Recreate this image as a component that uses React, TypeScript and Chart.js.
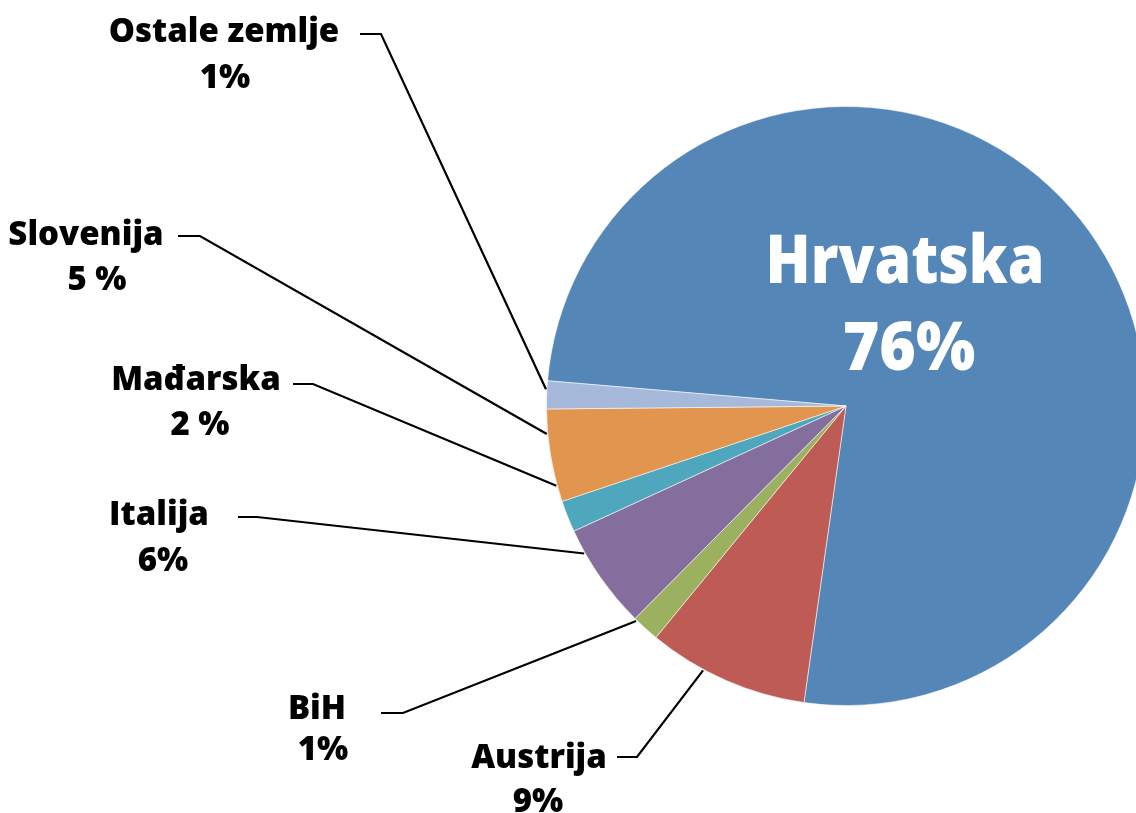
import { useEffect, useRef } from "react";
import { Chart, registerables } from "chart.js";

Chart.register(...registerables);

// ---- data ----
const categories = ["Hrvatska", "Austrija", "BiH", "Italija", "Mađarska", "Slovenija", "Ostale zemlje"];
const shares = [75.9, 8.7, 1.5, 5.7, 1.7, 5.0, 1.5];
const shareLabels = ["76%", "9%", "1%", "6%", "2 %", "5 %", "1%"];
const sliceColors = ["#5586B8", "#BD5B54", "#9CB160", "#846E9D", "#4EA7BD", "#E2954E", "#A6B9DA"];

// ---- layout for outer labels (index into categories) ----
type LabelLayout = {
  idx: number;
  x1: number; y1: number; x2: number; y2: number;
  start: [number, number]; corner: [number, number];
  angle: number; // degrees, canvas orientation, where the leader touches the pie
};
const outerLabels: LabelLayout[] = [
  { idx: 6, x1: 224, y1: 42, x2: 225, y2: 88, start: [360, 34], corner: [381, 34], angle: 183.2 },
  { idx: 5, x1: 86, y1: 245, x2: 97, y2: 290, start: [178, 236], corner: [200, 236], angle: 174.65 },
  { idx: 4, x1: 196, y1: 390, x2: 200, y2: 435, start: [293, 384], corner: [313, 384], angle: 164.6 },
  { idx: 3, x1: 159, y1: 525, x2: 163, y2: 571, start: [238, 517], corner: [257, 517], angle: 150.6 },
  { idx: 2, x1: 317, y1: 719, x2: 323, y2: 760, start: [381, 713], corner: [403, 713], angle: 134.3 },
  { idx: 1, x1: 539, y1: 768, x2: 538, y2: 812, start: [617, 757], corner: [637, 757], angle: 118.4 },
];
const innerLabel = { idx: 0, dx1: 59, dy1: -123, dx2: 63, dy2: -36 };

const FONT = '"Open Sans", "Noto Sans", sans-serif';

function drawText(ctx: CanvasRenderingContext2D, text: string, x: number, y: number, size: number, sx: number, color: string) {
  ctx.save();
  ctx.translate(x, y);
  ctx.scale(sx, 1);
  ctx.font = `800 ${size}px ${FONT}`;
  ctx.fillStyle = color;
  ctx.textAlign = "center";
  ctx.textBaseline = "alphabetic";
  ctx.fillText(text, 0, 0);
  ctx.restore();
}

const labelPlugin = {
  id: "pieLabels",
  afterDraw(chart: any) {
    const ctx: CanvasRenderingContext2D = chart.ctx;
    const meta = chart.getDatasetMeta(0);
    const arc: any = meta.data[0];
    const cx = arc.x;
    const cy = arc.y;
    const r = arc.outerRadius;

    ctx.save();
    ctx.strokeStyle = "#000";
    ctx.lineWidth = 2.2;
    ctx.lineJoin = "miter";
    for (const l of outerLabels) {
      const a = (l.angle * Math.PI) / 180;
      const ex = cx + (r + 1) * Math.cos(a);
      const ey = cy + (r + 1) * Math.sin(a);
      ctx.beginPath();
      ctx.moveTo(l.start[0], l.start[1]);
      ctx.lineTo(l.corner[0], l.corner[1]);
      ctx.lineTo(ex, ey);
      ctx.stroke();
      drawText(ctx, categories[l.idx], l.x1, l.y1, 34, 0.97, "#000");
      drawText(ctx, shareLabels[l.idx], l.x2, l.y2, 34, 0.97, "#000");
    }
    drawText(ctx, categories[innerLabel.idx], cx + innerLabel.dx1, cy + innerLabel.dy1, 67, 0.88, "#fff");
    drawText(ctx, shareLabels[innerLabel.idx], cx + innerLabel.dx2, cy + innerLabel.dy2, 68, 0.92, "#fff");
    ctx.restore();
  },
};

export default function App() {
  const ref = useRef<HTMLCanvasElement>(null);
  useEffect(() => {
    document.body.style.margin = "0";
    const chart = new Chart(ref.current!, {
      type: "pie",
      data: {
        labels: categories,
        datasets: [
          {
            data: shares,
            backgroundColor: sliceColors,
            borderColor: "rgba(255,255,255,0.55)",
            borderWidth: 1,
          },
        ],
      },
      options: {
        responsive: false,
        animation: false,
        rotation: 274.83,
        layout: { padding: { left: 546, top: 106, right: 54, bottom: 107 } },
        plugins: { legend: { display: false }, tooltip: { enabled: false } },
      },
      plugins: [labelPlugin],
    });
    return () => chart.destroy();
  }, []);
  return (
    <div style={{ width: 1136, height: 813, overflow: "hidden", position: "relative" }}>
      <canvas ref={ref} width={1200} height={813} style={{ display: "block", width: 1200, height: 813 }} />
    </div>
  );
}
